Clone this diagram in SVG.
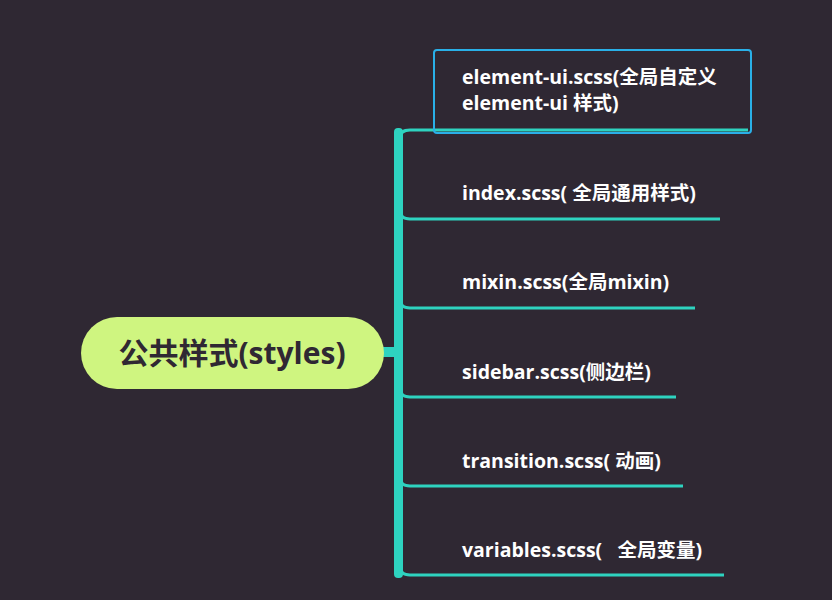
<svg xmlns="http://www.w3.org/2000/svg" width="832" height="600" viewBox="0 0 832 600">
<style>
.lbl{font-family:"Open Sans","Noto Sans CJK SC",sans-serif;font-weight:bold;font-size:19.5px;fill:#ffffff;white-space:pre}
.root{font-family:"Open Sans","Noto Sans CJK SC",sans-serif;font-weight:bold;font-size:30px;fill:#2f2833}
.br{stroke:#2ed3c0;stroke-width:3;fill:none}
</style>
<rect width="832" height="600" fill="#2f2833"/>
<g id="connectors">
<rect x="380" y="347" width="20" height="10" fill="#2ed3c0"/>
<rect x="394" y="128" width="9" height="450" rx="4" fill="#2ed3c0"/>
<path class="br" d="M400 138 Q400 130 410 130 H748"/>
<path class="br" d="M400 210 Q400 219 410 219 H720"/>
<path class="br" d="M400 299 Q400 308 410 308 H695"/>
<path class="br" d="M400 388 Q400 397 410 397 H676"/>
<path class="br" d="M400 477 Q400 486 410 486 H683"/>
<path class="br" d="M400 566 Q400 575 410 575 H724"/>
</g>
<g id="root">
<rect x="81" y="317" width="303" height="72" rx="36" fill="#cff580"/>
<text class="root" x="232" y="364" text-anchor="middle">公共样式(styles)</text>
</g>
<g id="n1">
<rect x="434" y="50" width="317" height="83" rx="3" fill="none" stroke="#2ab0e8" stroke-width="2"/>
<text class="lbl" x="462" y="84">element-ui.scss(全局自定义</text>
<text class="lbl" x="462" y="110">element-ui 样式)</text>
</g>
<g id="n2"><text class="lbl" x="462" y="200">index.scss( 全局通用样式)</text></g>
<g id="n3"><text class="lbl" x="462" y="289">mixin.scss(全局mixin)</text></g>
<g id="n4"><text class="lbl" x="462" y="379">sidebar.scss(侧边栏)</text></g>
<g id="n5"><text class="lbl" x="462" y="468">transition.scss( 动画)</text></g>
<g id="n6"><text class="lbl" x="462" y="557">variables.scss(   全局变量)</text></g>
</svg>
